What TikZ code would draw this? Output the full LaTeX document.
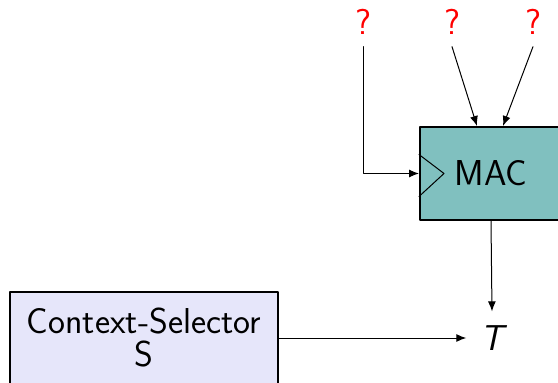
\documentclass[tikz,border=0pt]{standalone}
\usepackage{fontspec}
\usetikzlibrary{arrows.meta,positioning,calc}
\definecolor{macteal}{HTML}{80C0BF}
\definecolor{ctxlav}{HTML}{E6E6FA}
\definecolor{qred}{HTML}{FF0000}
\tikzset{
    every picture/.style={line cap=round,line join=round},
    bigfont/.style={font=\sffamily\fontsize{36}{33}\selectfont},
    blockbox/.style={draw=black,line width=2pt,minimum height=93pt,
      inner sep=2pt,bigfont,align=center},
    qmark/.style={text=qred,bigfont,inner sep=0pt,outer ysep=12pt},
    sigarrow/.style={-{Latex[length=10pt,width=8pt]},draw=black,
      line width=1pt}
}
\begin{document}
\begin{tikzpicture}[x=1pt,y=-1pt]
  \useasboundingbox (0,0) rectangle (558,383);
  \clip (0,0) rectangle (558,383);
  \node[blockbox,fill=macteal,minimum width=142pt] (mac) at (491,173.5) {MAC};
  \node[blockbox,fill=ctxlav,minimum width=268pt,minimum height=92pt] (ctx)
    at (144,338) {Context-Selector\\S};
  \node[bigfont,inner sep=14pt] (t) at (492,338) {\itshape T};
  \node[qmark] (q1) at (363,22) {?};
  \node[qmark] (q2) at (452,22) {?};
  \node[qmark] (q3) at (533,22) {?};
  % clock input
  \draw[line width=1pt] ($(mac.west)+(0,-19)$) -- ($(mac.west)+(25,0)$)
    -- ($(mac.west)+(0,23)$);
  \draw[sigarrow] (q1.south) |- (mac.west);
  \draw[sigarrow] (q2.south) -- ($(mac.north)+(-14,0)$);
  \draw[sigarrow] (q3.south) -- ($(mac.north)+(12,0)$);
  \draw[sigarrow] (mac.south) -- (t.north);
  \draw[sigarrow] (ctx.east) -- (t.west);
\end{tikzpicture}
\end{document}
